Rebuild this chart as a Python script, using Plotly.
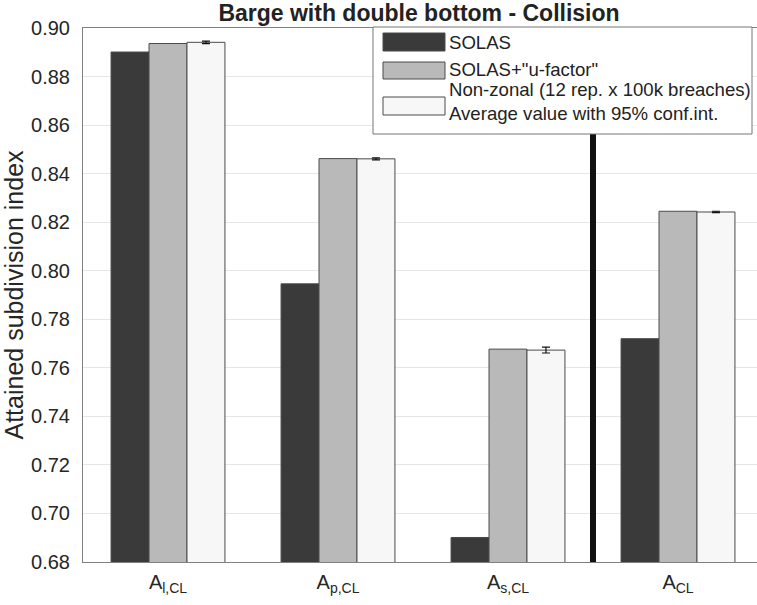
import plotly.graph_objects as go

# ---- data ----
categories = [1, 2, 3, 4]
tick_labels = ["A<sub>l,CL</sub>", "A<sub>p,CL</sub>", "A<sub>s,CL</sub>", "A<sub>CL</sub>"]
solas = [0.8901, 0.7946, 0.6901, 0.7720]
solas_u = [0.8936, 0.8462, 0.7677, 0.8245]
nonzonal = [0.8941, 0.8461, 0.7673, 0.8242]
nonzonal_ci = [0.0005, 0.0004, 0.0012, 0.0003]
separator_x = 3.5
series_names = ["SOLAS", "SOLAS+\"u-factor\"",
                "Non-zonal (12 rep. x 100k breaches)<br>Average value with 95% conf.int."]
y_ticks = [0.68, 0.70, 0.72, 0.74, 0.76, 0.78, 0.80, 0.82, 0.84, 0.86, 0.88, 0.90]

FONT = "Liberation Sans, Arial, Helvetica, sans-serif"
colors = ["#3a3a3a", "#b9b9b9", "#f7f7f7"]
outline = "#4a4a4a"

fig = go.Figure()
fig.add_trace(go.Bar(x=categories, y=solas, name=series_names[0], marker=dict(color=colors[0], line=dict(color=outline, width=1)), showlegend=False))
fig.add_trace(go.Bar(x=categories, y=solas_u, name=series_names[1], marker=dict(color=colors[1], line=dict(color=outline, width=1)), showlegend=False))
fig.add_trace(go.Bar(x=categories, y=nonzonal, name=series_names[2], marker=dict(color=colors[2], line=dict(color=outline, width=1)),
                     error_y=dict(type="data", array=nonzonal_ci, color="#111111", thickness=1.2, width=4), showlegend=False))

# separator line
fig.add_shape(type="line", xref="x", yref="y", x0=separator_x, x1=separator_x, y0=y_ticks[0], y1=y_ticks[-1],
              line=dict(color="#111111", width=6), layer="above")

# manual legend (paper coords from pixel positions)
W, H = 757, 605
L, R, T, B = 83, 0, 28, 43
pw, ph = W - L - R, H - T - B
def px(x):
    return (x - L) / pw
def py(y):
    return 1 - (y - T) / ph

fig.add_shape(type="rect", xref="paper", yref="paper", x0=px(373), x1=px(752), y0=py(27), y1=py(134),
              fillcolor="white", line=dict(color="#777777", width=1), layer="above")
patches = [(33, 51), (62, 79), (97, 115)]
for (y0, y1), c in zip(patches, colors):
    fig.add_shape(type="rect", xref="paper", yref="paper", x0=px(383), x1=px(445), y0=py(y1), y1=py(y0),
                  fillcolor=c, line=dict(color=outline, width=1), layer="above")
text_y = [43, 70, 101]
for name, ty in zip(series_names, text_y):
    fig.add_annotation(xref="paper", yref="paper", x=px(447), y=py(ty), text=name, showarrow=False,
                       xanchor="left", yanchor="middle", align="left",
                       font=dict(family=FONT, size=18.6, color="#222222"))

fig.update_layout(
    width=W, height=H,
    margin=dict(l=L, r=R, t=T, b=B),
    paper_bgcolor="white", plot_bgcolor="white",
    barmode="group", bargap=0.33, bargroupgap=0,
    title=dict(text="<b>Barge with double bottom - Collision</b>", x=419 / W, xanchor="center",
               y=1 - 13 / H, yanchor="middle", font=dict(family=FONT, size=23, color="#222222")),
    font=dict(family=FONT, size=20, color="#262626"),
)
fig.update_xaxes(range=[0.5, 0.5 + pw / 170.0], tickvals=categories, ticktext=tick_labels, automargin=False,
                 showgrid=False, showline=True, linecolor="#808080", linewidth=1, mirror=True,
                 ticks="", ticklabelstandoff=2, tickfont=dict(family=FONT, size=20, color="#262626"), zeroline=False)
fig.update_yaxes(range=[y_ticks[0], y_ticks[-1]], tickvals=y_ticks, tickformat=".2f", automargin=False,
                 showgrid=True, gridcolor="#e6e6e6", gridwidth=1, showline=True, linecolor="#808080", linewidth=1,
                 ticks="", ticklabelstandoff=8, tickfont=dict(family=FONT, size=20, color="#262626"), zeroline=False,
                 title=dict(text="Attained subdivision index", font=dict(family=FONT, size=25, color="#262626"), standoff=4))

fig.write_html("out.html", config={"displayModeBar": False},
               post_script="document.body.style.margin='0';document.body.style.overflow='hidden';")
